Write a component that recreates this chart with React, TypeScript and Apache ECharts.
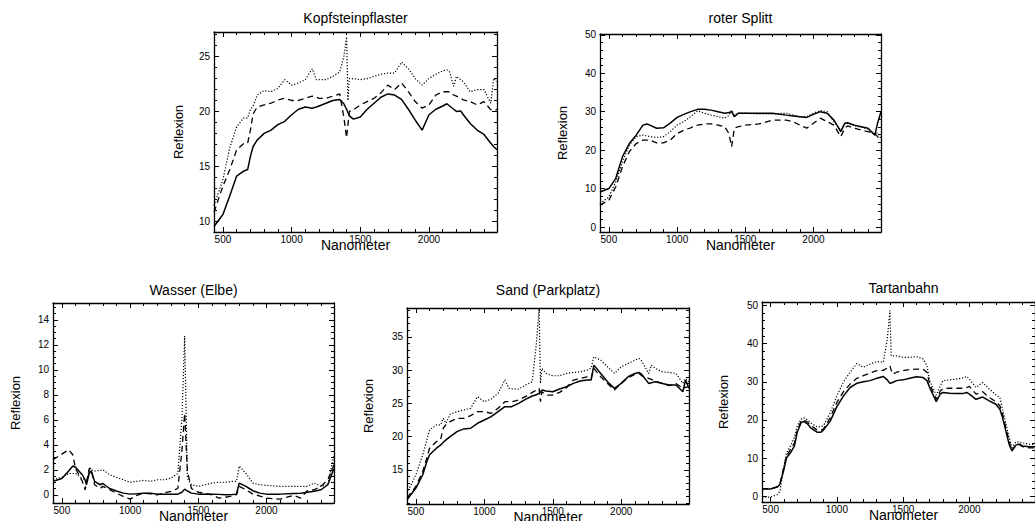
import React, { useEffect, useRef } from "react";
import * as echarts from "echarts";

// ---------- tick values ----------
const X_MAJOR = [500, 1000, 1500, 2000];
const X_MINOR = [600, 700, 800, 900, 1100, 1200, 1300, 1400, 1600, 1700, 1800, 1900, 2100, 2200, 2300, 2400];
const X_RANGE = [435, 2495];

const Y1_MAJOR = [10, 15, 20, 25];
const Y1_MINOR = [11, 12, 13, 14, 16, 17, 18, 19, 21, 22, 23, 24, 26, 27];
const Y2_MAJOR = [0, 10, 20, 30, 40, 50];
const Y2_MINOR = [2, 4, 6, 8, 12, 14, 16, 18, 22, 24, 26, 28, 32, 34, 36, 38, 42, 44, 46, 48];
const Y3_MAJOR = [0, 2, 4, 6, 8, 10, 12, 14];
const Y3_MINOR = [0.5, 1, 1.5, 2.5, 3, 3.5, 4.5, 5, 5.5, 6.5, 7, 7.5, 8.5, 9, 9.5, 10.5, 11, 11.5, 12.5, 13, 13.5, 14.5, 15];
const Y4_MAJOR = [15, 20, 25, 30, 35];
const Y4_MINOR = [10, 11, 12, 13, 14, 16, 17, 18, 19, 21, 22, 23, 24, 26, 27, 28, 29, 31, 32, 33, 34, 36, 37, 38, 39];
const Y5_MAJOR = [0, 10, 20, 30, 40, 50];
const Y5_MINOR = [2, 4, 6, 8, 12, 14, 16, 18, 22, 24, 26, 28, 32, 34, 36, 38, 42, 44, 46, 48];

// ---------- Kopfsteinpflaster ----------
const W1 = [435, 500, 550, 600, 650, 680, 700, 720, 750, 800, 850, 900, 950, 1000, 1050, 1100, 1150, 1180, 1200, 1250, 1300, 1350, 1380, 1400, 1410, 1420, 1450, 1500, 1550, 1600, 1650, 1700, 1750, 1800, 1850, 1900, 1950, 2000, 2050, 2100, 2130, 2150, 2180, 2200, 2230, 2250, 2300, 2350, 2400, 2450, 2470, 2495];
const K_SOLID = [9.5, 10.6, 12.3, 14.1, 14.55, 14.7, 15.9, 16.8, 17.4, 18.0, 18.3, 18.8, 19.1, 19.7, 20.2, 20.4, 20.3, 20.4, 20.5, 20.75, 21.0, 21.1, 20.7, 20.2, 19.9, 19.6, 19.3, 19.5, 20.2, 20.75, 21.3, 21.6, 21.5, 21.1, 20.2, 19.2, 18.3, 19.7, 20.2, 20.5, 20.7, 20.5, 20.2, 20.0, 20.05, 19.7, 18.9, 18.3, 17.9, 17.1, 16.8, 16.5];
const K_DASH = [10.8, 13.2, 14.7, 16.5, 17.06, 17.1, 18.3, 19.8, 20.4, 20.6, 20.75, 21.05, 21.2, 21.0, 21.0, 21.2, 21.4, 21.3, 21.2, 21.2, 21.4, 21.6, 19.5, 17.6, 18.8, 20.0, 20.15, 20.6, 20.9, 21.2, 21.7, 22.4, 22.0, 22.6, 21.8, 20.9, 20.3, 20.6, 21.5, 21.8, 21.8, 21.8, 21.5, 21.4, 21.2, 21.05, 20.9, 20.6, 20.9, 20.15, 20.1, 20.2];
const K_DOT = [11.4, 13.8, 16.7, 18.6, 19.4, 19.4, 20.2, 20.5, 21.5, 21.9, 21.8, 22.1, 22.9, 22.4, 22.6, 22.9, 23.9, 22.9, 22.9, 22.9, 23.2, 23.6, 25.0, 26.8, 21.0, 23.0, 23.0, 22.9, 23.0, 23.2, 23.4, 23.5, 23.5, 24.5, 23.9, 23.0, 22.4, 23.0, 23.4, 23.7, 23.8, 23.6, 22.3, 23.2, 22.9, 22.7, 21.8, 22.0, 22.0, 20.75, 23.0, 22.7];

// ---------- roter Splitt ----------
const W2 = [435, 500, 550, 600, 650, 700, 750, 780, 800, 850, 900, 950, 1000, 1050, 1100, 1150, 1200, 1250, 1300, 1350, 1380, 1400, 1420, 1450, 1500, 1600, 1700, 1800, 1850, 1900, 1950, 2000, 2050, 2100, 2150, 2200, 2230, 2250, 2300, 2350, 2400, 2450, 2470, 2495];
const R_SOLID = [9.1, 10.0, 12.6, 18.3, 21.7, 23.9, 26.5, 26.8, 26.5, 25.7, 25.8, 27.0, 28.5, 29.3, 30.0, 30.6, 30.6, 30.4, 30.0, 29.6, 29.8, 30.0, 28.7, 29.6, 29.6, 29.6, 29.6, 29.1, 28.9, 28.7, 28.5, 29.3, 30.0, 29.6, 27.8, 24.8, 27.0, 27.1, 26.5, 26.1, 25.7, 23.9, 27.0, 30.0];
const R_DASH = [5.7, 7.0, 10.4, 15.7, 19.6, 21.7, 22.6, 22.6, 22.6, 21.9, 21.9, 22.6, 24.3, 25.2, 25.8, 26.5, 26.8, 26.8, 26.5, 26.1, 24.3, 20.9, 25.7, 26.1, 26.5, 26.8, 27.8, 27.8, 27.4, 26.5, 25.7, 27.0, 28.3, 27.4, 26.5, 23.5, 25.7, 26.3, 25.7, 25.2, 24.8, 24.3, 23.5, 22.5];
const R_DOT = [6.1, 7.8, 11.7, 17.0, 21.3, 23.5, 23.9, 23.7, 23.5, 23.3, 23.5, 24.8, 26.5, 27.4, 28.7, 30.2, 29.6, 29.1, 28.7, 28.3, 29.0, 30.4, 29.1, 29.7, 29.6, 29.4, 29.4, 29.6, 29.1, 28.7, 28.7, 29.6, 30.3, 30.0, 27.4, 25.2, 26.8, 27.0, 26.3, 26.0, 25.5, 24.0, 24.5, 23.0];

// ---------- Wasser (Elbe) ----------
const W3 = [435, 500, 550, 580, 600, 650, 670, 680, 700, 715, 720, 740, 780, 800, 850, 900, 950, 1000, 1050, 1100, 1150, 1200, 1250, 1300, 1350, 1380, 1400, 1420, 1450, 1500, 1550, 1600, 1650, 1700, 1750, 1780, 1800, 1850, 1900, 1950, 2000, 2100, 2200, 2250, 2300, 2350, 2400, 2450, 2495];
const E_SOLID = [1.07, 1.3, 1.9, 2.3, 2.2, 1.6, 1.2, 0.8, 1.7, 1.9, 1.9, 1.07, 0.8, 0.9, 0.5, 0.3, 0.13, 0.05, 0.08, 0.13, 0.12, 0.05, 0.05, 0.05, 0.05, 0.2, 0.45, 0.3, 0.13, 0.05, 0.05, 0.05, 0.03, 0.0, 0.02, 0.05, 0.93, 0.67, 0.32, 0.13, 0.05, 0.05, 0.1, 0.12, 0.2, 0.28, 0.4, 0.8, 2.1];
const E_DASH = [2.8, 3.25, 3.6, 3.2, 2.1, 1.07, 0.4, 0.9, 2.1, 2.1, 1.8, 0.8, 0.5, 0.67, 0.4, 0.13, -0.13, -0.35, -0.05, 0.13, 0.08, 0.0, 0.15, 0.27, 0.5, 3.5, 6.5, 1.9, 0.5, 0.2, 0.1, 0.0, -0.27, -0.2, -0.1, 0.0, 0.67, 0.4, 0.05, -0.1, -0.27, -0.35, -0.05, -0.27, 0.32, 0.4, 0.67, 1.2, 2.4];
const E_DOT = [1.2, 1.4, 1.7, 1.7, 1.7, 1.3, 1.2, 1.07, 1.9, 2.0, 2.0, 1.9, 1.95, 2.0, 1.6, 1.4, 1.2, 1.0, 1.07, 1.15, 1.07, 1.2, 1.2, 1.33, 1.7, 6.0, 12.7, 1.33, 0.8, 0.67, 0.8, 0.93, 1.0, 1.0, 1.07, 1.07, 2.3, 1.7, 0.93, 0.8, 0.75, 0.67, 0.67, 0.67, 0.67, 0.93, 0.67, 0.8, 3.2];

// ---------- Sand (Parkplatz) ----------
const W4 = [435, 500, 550, 580, 600, 650, 680, 700, 720, 750, 800, 850, 900, 950, 1000, 1050, 1100, 1150, 1180, 1200, 1250, 1300, 1350, 1380, 1400, 1410, 1420, 1450, 1500, 1550, 1600, 1650, 1700, 1750, 1780, 1800, 1850, 1900, 1950, 2000, 2050, 2100, 2130, 2150, 2200, 2220, 2250, 2300, 2350, 2400, 2450, 2470, 2495];
const S_SOLID = [10.5, 12.25, 14.25, 16.25, 17.25, 18.25, 18.7, 19.15, 19.5, 20.0, 20.75, 21.15, 21.25, 22.0, 22.5, 23.0, 23.75, 24.5, 24.5, 24.5, 25.0, 25.6, 26.1, 26.3, 26.5, 26.7, 27.0, 26.85, 26.75, 27.15, 27.5, 28.0, 28.35, 28.5, 28.5, 30.75, 29.5, 28.25, 27.25, 28.0, 29.0, 29.5, 29.65, 29.35, 28.0, 28.1, 28.25, 28.0, 27.75, 27.75, 26.75, 28.5, 27.25];
const S_DASH = [10.75, 12.5, 14.75, 16.8, 18.25, 19.25, 19.5, 21.25, 21.8, 22.25, 22.75, 22.75, 23.15, 23.75, 23.75, 23.5, 24.25, 25.25, 25.25, 25.25, 25.5, 26.0, 26.65, 27.0, 27.25, 25.25, 26.75, 26.25, 26.25, 26.65, 27.35, 28.5, 28.75, 29.0, 28.75, 30.25, 29.0, 28.0, 27.0, 28.0, 28.85, 29.35, 29.5, 29.15, 28.75, 28.6, 28.35, 28.0, 27.65, 28.0, 27.25, 27.4, 27.5];
const S_DOT = [11.5, 14.25, 17.25, 19.5, 21.0, 21.75, 21.75, 22.75, 22.0, 23.35, 23.75, 24.0, 24.25, 26.0, 25.25, 25.65, 26.5, 28.5, 27.25, 27.2, 27.15, 27.75, 28.25, 34.0, 39.25, 28.0, 30.25, 29.5, 29.15, 29.15, 29.5, 29.65, 29.75, 30.0, 30.3, 32.0, 31.5, 30.5, 29.5, 30.5, 31.0, 31.5, 31.75, 31.35, 29.5, 30.75, 30.25, 29.75, 29.65, 29.5, 28.0, 28.75, 28.25];

// ---------- Tartanbahn ----------
const W5 = [435, 500, 550, 570, 600, 620, 650, 680, 700, 730, 750, 780, 800, 850, 880, 900, 950, 1000, 1050, 1100, 1150, 1200, 1250, 1300, 1350, 1380, 1400, 1410, 1420, 1450, 1500, 1550, 1600, 1650, 1680, 1700, 1750, 1780, 1800, 1850, 1900, 1950, 1980, 2000, 2050, 2100, 2150, 2200, 2230, 2250, 2300, 2320, 2350, 2380, 2400, 2450, 2495];
const T_SOLID = [1.9, 1.9, 2.4, 3.1, 7.0, 10.1, 11.4, 13.2, 16.7, 19.3, 19.6, 18.9, 18.0, 16.8, 16.8, 17.4, 19.7, 23.5, 26.3, 28.5, 29.6, 30.0, 30.3, 30.9, 31.4, 30.5, 29.6, 29.7, 29.8, 30.3, 30.5, 30.9, 31.3, 31.1, 30.3, 28.5, 24.8, 26.8, 27.2, 27.0, 26.9, 26.9, 27.2, 26.75, 25.4, 26.0, 25.0, 24.1, 22.8, 20.6, 13.6, 12.0, 13.4, 13.7, 13.2, 13.0, 13.0];
const T_DASH = [2.0, 2.0, 2.5, 3.2, 7.7, 10.5, 12.3, 14.0, 17.1, 19.7, 20.0, 19.4, 18.6, 17.4, 17.3, 17.7, 20.6, 24.6, 27.4, 29.4, 30.9, 31.6, 32.3, 32.9, 33.0, 33.6, 34.2, 33.0, 32.0, 32.5, 32.9, 33.2, 33.3, 33.3, 32.5, 29.4, 25.4, 27.6, 28.2, 28.3, 28.3, 28.3, 28.5, 28.8, 26.75, 27.4, 25.9, 24.8, 23.7, 21.5, 14.5, 11.8, 13.3, 13.5, 13.0, 12.7, 12.7];
const T_DOT = [-0.2, -0.2, 0.4, 1.3, 7.9, 11.4, 13.2, 15.4, 18.4, 20.2, 20.6, 20.0, 19.3, 18.2, 18.2, 18.6, 21.9, 26.3, 30.0, 32.5, 34.8, 33.8, 34.6, 35.3, 35.1, 41.0, 48.7, 36.8, 36.8, 36.8, 36.4, 36.4, 36.6, 36.0, 34.2, 30.3, 26.5, 28.9, 30.3, 30.5, 30.7, 31.0, 31.4, 30.7, 28.5, 29.8, 28.1, 26.6, 25.9, 22.8, 15.4, 12.7, 14.2, 14.3, 14.0, 13.6, 13.6];

const TITLES = ["Kopfsteinpflaster", "roter Splitt", "Wasser (Elbe)", "Sand (Parkplatz)", "Tartanbahn"];
const X_NAME = "Nanometer";
const Y_NAME = "Reflexion";

const PANEL_DATA = [
  { w: W1, s: [K_SOLID, K_DASH, K_DOT], yr: [9.0, 27.25], yMaj: Y1_MAJOR, yMin: Y1_MINOR },
  { w: W2, s: [R_SOLID, R_DASH, R_DOT], yr: [-1.3, 50.2], yMaj: Y2_MAJOR, yMin: Y2_MINOR },
  { w: W3, s: [E_SOLID, E_DASH, E_DOT], yr: [-0.66, 15.34], yMaj: Y3_MAJOR, yMin: Y3_MINOR },
  { w: W4, s: [S_SOLID, S_DASH, S_DOT], yr: [9.85, 39.35], yMaj: Y4_MAJOR, yMin: Y4_MINOR },
  { w: W5, s: [T_SOLID, T_DASH, T_DOT], yr: [-1.5, 50.9], yMaj: Y5_MAJOR, yMin: Y5_MINOR },
];

// layout (pixels)
const LAYOUT = [
  { left: 214, top: 32, width: 283, height: 200, titleY: 18, yNameX: 178 },
  { left: 600, top: 34, width: 281, height: 198, titleY: 18, yNameX: 562 },
  { left: 53, top: 303, width: 281, height: 200, titleY: 290, yNameX: 15 },
  { left: 407, top: 308, width: 282, height: 196, titleY: 290, yNameX: 368 },
  { left: 762, top: 302, width: 283, height: 200, titleY: 288, yNameX: 723 },
];

const FONT = "'Liberation Sans', Arial, Helvetica, sans-serif";
const LINE_STYLES: any[] = [
  { type: "solid", width: 1.5 },
  { type: [6, 4], width: 1.3 },
  { type: [1.2, 1.8], width: 1.2 },
];

function axis(gi: number, min: number, max: number, position: string, major: boolean, ticks: number[], showLine: boolean, labels: boolean, isY: boolean) {
  return {
    gridIndex: gi,
    type: "value",
    min,
    max,
    position,
    axisLine: { show: showLine, onZero: false, lineStyle: { color: "#000", width: 1.3 } },
    axisTick: {
      show: true,
      inside: true,
      length: major ? 5 : 3,
      customValues: ticks,
      lineStyle: { color: "#000", width: 1 },
    },
    axisLabel: labels
      ? {
          show: true,
          customValues: ticks,
          color: "#000",
          fontSize: 10,
          fontFamily: FONT,
          margin: isY ? 4 : 2,
          formatter: (v: number) => String(v),
        }
      : { show: false },
    splitLine: { show: false },
    minorTick: { show: false },
    minorSplitLine: { show: false },
    silent: true,
  };
}

function buildOption() {
  const grid: any[] = [];
  const xAxis: any[] = [];
  const yAxis: any[] = [];
  const series: any[] = [];
  const graphic: any[] = [];

  PANEL_DATA.forEach((p, i) => {
    const L = LAYOUT[i];
    grid.push({ left: L.left, top: L.top, width: L.width, height: L.height, containLabel: false });
    const [x0, x1] = X_RANGE;
    xAxis.push(axis(i, x0, x1, "bottom", true, X_MAJOR, true, true, false));
    xAxis.push(axis(i, x0, x1, "bottom", false, X_MINOR, false, false, false));
    xAxis.push(axis(i, x0, x1, "top", true, X_MAJOR, true, false, false));
    xAxis.push(axis(i, x0, x1, "top", false, X_MINOR, false, false, false));
    const [y0, y1] = p.yr;
    yAxis.push(axis(i, y0, y1, "left", true, p.yMaj, true, true, true));
    yAxis.push(axis(i, y0, y1, "left", false, p.yMin, false, false, true));
    yAxis.push(axis(i, y0, y1, "right", true, p.yMaj, true, false, true));
    yAxis.push(axis(i, y0, y1, "right", false, p.yMin, false, false, true));

    p.s.forEach((vals, k) => {
      series.push({
        type: "line",
        xAxisIndex: i * 4,
        yAxisIndex: i * 4,
        data: p.w.map((w, j) => [w, vals[j]]),
        symbol: "none",
        showSymbol: false,
        smooth: false,
        clip: true,
        silent: true,
        lineStyle: { color: "#000", ...LINE_STYLES[k] },
        z: 2 + k,
      });
    });

    const cx = L.left + L.width / 2;
    graphic.push({
      type: "text",
      x: cx,
      y: L.titleY,
      style: { text: TITLES[i], fill: "#000", font: `14px ${FONT}`, align: "center", verticalAlign: "middle" },
    });
    graphic.push({
      type: "text",
      x: cx,
      y: L.top + L.height + 13,
      style: { text: X_NAME, fill: "#000", font: `14px ${FONT}`, align: "center", verticalAlign: "middle" },
    });
    graphic.push({
      type: "text",
      x: L.yNameX,
      y: L.top + L.height / 2,
      rotation: Math.PI / 2,
      style: { text: Y_NAME, fill: "#000", font: `13px ${FONT}`, align: "center", verticalAlign: "middle" },
    });
  });

  return {
    animation: false,
    backgroundColor: "#fff",
    grid,
    xAxis,
    yAxis,
    series,
    graphic,
  };
}

export default function App() {
  const ref = useRef<HTMLDivElement>(null);
  useEffect(() => {
    if (!ref.current) return;
    const chart = echarts.init(ref.current, undefined, { renderer: "svg" });
    chart.setOption(buildOption() as any);
    return () => chart.dispose();
  }, []);
  return (
    <div
      ref={ref}
      style={{ position: "absolute", left: 0, top: 0, width: 1035, height: 521, overflow: "hidden", background: "#fff" }}
    />
  );
}
